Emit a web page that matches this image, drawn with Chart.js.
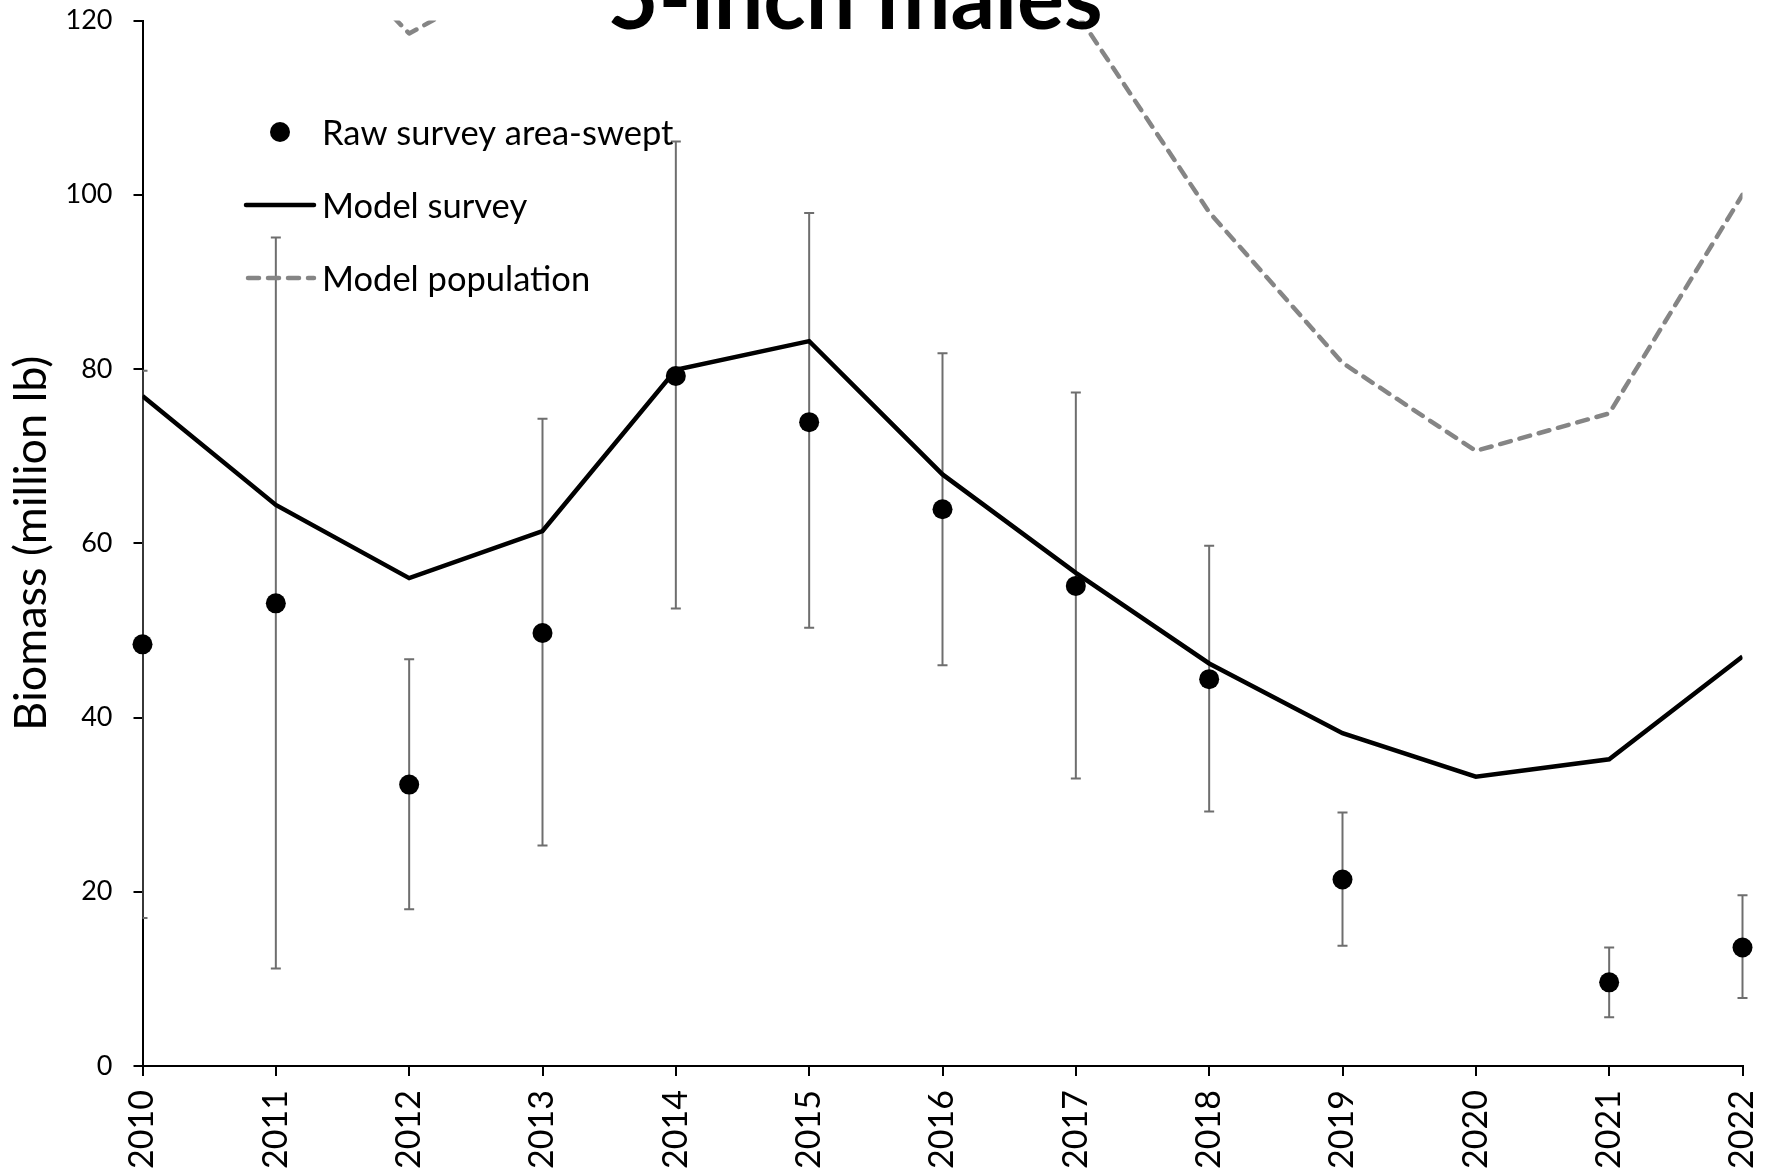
<!DOCTYPE html>
<html lang="en">
<head>
<meta charset="UTF-8">
<title>5-inch males</title>
<script src="https://cdn.jsdelivr.net/npm/chart.js@4.4.1/dist/chart.umd.min.js"></script>
<style>
  html, body { margin: 0; padding: 0; background: #fff; overflow: hidden; }
  canvas { display: block; }
</style>
</head>
<body>
<canvas id="graficoBiomassa" width="1773" height="1170"></canvas>
<script>
const anos = ["2010", "2011", "2012", "2013", "2014", "2015", "2016", "2017", "2018", "2019", "2020", "2021", "2022"];

// levantamento bruto (area varrida) + limites do intervalo
const levantamento    = [48.4, 53.1, 32.3, 49.7, 79.2, 73.9, 63.9, 55.1, 44.4, 21.4, null, 9.6, 13.6];
const levantamentoMin = [17.0, 11.2, 18.0, 25.3, 52.5, 50.3, 46.0, 33.0, 29.2, 13.8, null, 5.6, 7.8];
const levantamentoMax = [79.8, 95.1, 46.7, 74.3, 106.1, 97.9, 81.8, 77.3, 59.7, 29.1, null, 13.6, 19.6];

// saidas do modelo
const modeloLevantamento = [76.9, 64.4, 56.0, 61.4, 79.9, 83.2, 67.9, 56.6, 46.2, 38.2, 33.2, 35.2, 47.0];
const modeloPopulacao    = [150, 134.5, 118.5, 127, 152, 160, 141, 121, 98.0, 80.7, 70.6, 74.9, 100.0];

const ticksY = [0, 20, 40, 60, 80, 100, 120];

const fonte = "Lato, 'Open Sans', sans-serif";
const cinzaTracejado = "#858585";
const cinzaErro = "#6e6e6e";

// barras de erro desenhadas antes dos pontos
const barrasErro = {
  id: "barrasErro",
  beforeDatasetsDraw(chart) {
    const { ctx, chartArea, scales: { x, y } } = chart;
    ctx.save();
    ctx.beginPath();
    ctx.rect(chartArea.left, 0, chart.width - chartArea.left, chart.height);
    ctx.clip();
    ctx.strokeStyle = cinzaErro;
    ctx.lineWidth = 2;
    levantamentoMin.forEach((min, i) => {
      if (min == null) return;
      const px = x.getPixelForValue(i);
      const y1 = y.getPixelForValue(min);
      const y2 = y.getPixelForValue(levantamentoMax[i]);
      ctx.beginPath();
      ctx.moveTo(px, y1); ctx.lineTo(px, y2);
      ctx.moveTo(px - 5, y1); ctx.lineTo(px + 5, y1);
      ctx.moveTo(px - 5, y2); ctx.lineTo(px + 5, y2);
      ctx.stroke();
    });
    ctx.restore();
  }
};

// titulo e legenda
const textos = {
  id: "textos",
  afterDraw(chart) {
    const { ctx } = chart;
    const ds = chart.data.datasets;
    ctx.save();

    // legenda
    const xMarca = 280, xTexto = 322, linhas = [132, 205, 278];
    ctx.font = `34.5px ${fonte}`;
    ctx.textAlign = "left";
    ctx.textBaseline = "middle";

    ctx.beginPath();
    ctx.arc(xMarca, linhas[0], ds[0].pointRadius, 0, Math.PI * 2);
    ctx.fillStyle = ds[0].pointBackgroundColor;
    ctx.fill();

    ctx.lineCap = "round";
    ctx.strokeStyle = ds[1].borderColor;
    ctx.lineWidth = ds[1].borderWidth;
    ctx.beginPath();
    ctx.moveTo(246, linhas[1]); ctx.lineTo(314, linhas[1]);
    ctx.stroke();

    ctx.strokeStyle = ds[2].borderColor;
    ctx.lineWidth = ds[2].borderWidth;
    ctx.setLineDash(ds[2].borderDash);
    ctx.beginPath();
    ctx.moveTo(248, linhas[2]); ctx.lineTo(314, linhas[2]);
    ctx.stroke();
    ctx.setLineDash([]);

    ctx.fillStyle = "#000";
    ds.forEach((d, i) => ctx.fillText(d.label, xTexto, linhas[i] + 2));

    // titulo (cortado no topo)
    ctx.font = `bold 88px ${fonte}`;
    ctx.textAlign = "center";
    ctx.textBaseline = "alphabetic";
    ctx.fillText("5-inch males", 855, 29);
    ctx.restore();
  }
};

const ctx = document.getElementById("graficoBiomassa").getContext("2d");

new Chart(ctx, {
  type: "line",
  data: {
    labels: anos,
    datasets: [
      {
        label: "Raw survey area-swept",
        data: levantamento,
        showLine: false,
        pointRadius: 10,
        pointHoverRadius: 10,
        pointBorderWidth: 0,
        pointBackgroundColor: "#000",
        borderColor: "#000",
        clip: false
      },
      {
        label: "Model survey",
        data: modeloLevantamento,
        borderColor: "#000",
        borderWidth: 4.5,
        pointRadius: 0,
        tension: 0,
        clip: 0
      },
      {
        label: "Model population",
        data: modeloPopulacao,
        borderColor: cinzaTracejado,
        borderWidth: 4.5,
        borderDash: [11, 9],
        borderCapStyle: "round",
        borderJoinStyle: "round",
        pointRadius: 0,
        tension: 0,
        clip: 0
      }
    ]
  },
  options: {
    responsive: false,
    animation: false,
    devicePixelRatio: 1,
    layout: { padding: { top: 20.5, right: 30.5, left: 0, bottom: 0 } },
    plugins: {
      legend: { display: false },
      title: { display: false },
      tooltip: { enabled: false }
    },
    scales: {
      x: {
        type: "category",
        offset: false,
        grid: { drawOnChartArea: false, color: "#000", lineWidth: 2, tickLength: 10 },
        border: { color: "#000", width: 2 },
        ticks: {
          minRotation: 90,
          maxRotation: 90,
          autoSkip: false,
          padding: 14,
          color: "#000",
          font: { family: fonte, size: 34 }
        },
        afterFit(scale) {
          scale.height = 104;
          scale.paddingLeft = 0;
          scale.paddingRight = 0;
        }
      },
      y: {
        min: 0,
        max: 120,
        afterBuildTicks(scale) {
          scale.ticks = ticksY.map(v => ({ value: v }));
        },
        title: {
          display: true,
          text: "Biomass (million lb)",
          color: "#000",
          font: { family: fonte, size: 45 },
          padding: { top: 4, bottom: 0 }
        },
        grid: { drawOnChartArea: false, color: "#000", lineWidth: 2, tickLength: 9 },
        border: { color: "#000", width: 2 },
        ticks: {
          padding: 21,
          color: "#000",
          font: { family: fonte, size: 27 }
        },
        afterFit(scale) {
          scale.width = 142.5;
          scale.paddingTop = 0;
          scale.paddingBottom = 0;
        }
      }
    }
  },
  plugins: [barrasErro, textos]
});
</script>
</body>
</html>
